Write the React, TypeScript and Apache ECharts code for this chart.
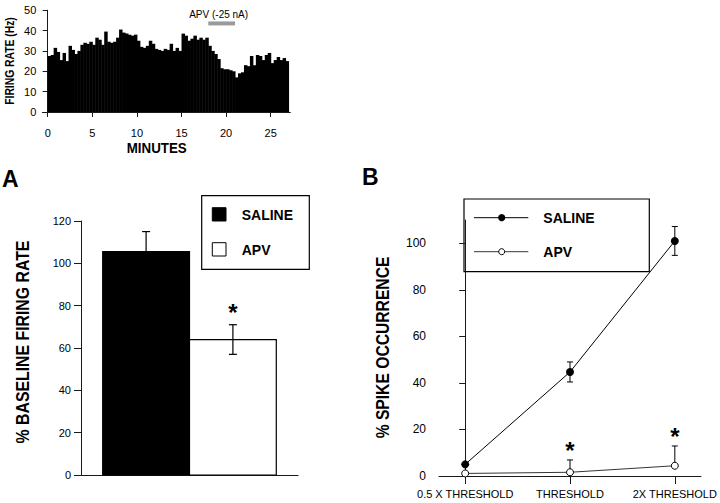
import React, { useEffect, useRef } from "react";
import * as echarts from "echarts";

const FONT = "'Liberation Sans', Arial, Helvetica, sans-serif";

// ---------- Top: firing-rate histogram ----------
const binMinutes = 1 / 3;
const firingRate = [
  27.5, 28, 31.5,
  29.5, 25.5, 29,
  25, 32.5, 30.5,
  28.5, 30, 33,
  34, 33.5, 34.5,
  33, 36.5, 35.5,
  33, 39.5, 34.5,
  34, 34.5, 36.5,
  40.5, 39, 38.5,
  38, 37.5, 38,
  35, 32, 31.5,
  32.5, 35, 33.5,
  31, 30.5, 30,
  31, 30.5, 33.5,
  30, 31.5, 30,
  38.5, 37.5, 35,
  36, 37.5, 35.5,
  36.5, 35.5, 36.5,
  32.5, 30, 28.5,
  26, 21.5, 21,
  21, 20.5, 20,
  17, 19, 19.5,
  23, 22.5, 27.5,
  23, 28, 27.5,
  25.5, 28, 29,
  24, 25.5, 27,
  25.5, 26.5, 25,
];
const histXTicks = [0, 5, 10, 15, 20, 25];
const apvPeriod = [18, 21];
const apvMarkLevel = 43.5;
const apvLabel = "APV (-25 nA)";

// ---------- Panel A ----------
const groupNames = ["SALINE", "APV"];
const baselineMean = [105.5, 64];
const baselineSem = [9.5, 7];
const groupStar = [false, true];

// ---------- Panel B ----------
const stimCategories = ["0.5 X THRESHOLD", "THRESHOLD", "2X THRESHOLD"];
const salineSpike = [5, 44.7, 101];
const salineSpikeErr = [0, 4.3, 6.2];
const apvSpike = [1.1, 1.6, 4.4];
const apvSpikeErr = [0, 5.3, 8.5];
const spikeStar = [false, true, true];
const spikeYTicks = [0, 20, 40, 60, 80, 100];

const AX = "#1a1a1a";

function line(x1: number, y1: number, x2: number, y2: number, w = 1) {
  return { type: "line", shape: { x1, y1, x2, y2 }, style: { stroke: "#000", lineWidth: w } };
}

function starText(x: number, y: number) {
  return {
    type: "text",
    style: {
      text: "*", x, y, fill: "#000",
      font: `bold 24px ${FONT}`,
      align: "center", verticalAlign: "middle",
      textAlign: "center", textVerticalAlign: "middle",
    },
  };
}

function txt(text: string, x: number, y: number, size: number, weight: string, extra: any = {}) {
  return {
    type: "text",
    x, y,
    ...extra,
    style: {
      text, fill: "#000",
      font: `${weight} ${size}px ${FONT}`,
      align: extra.align || "left", verticalAlign: "middle",
      textAlign: extra.align || "left", textVerticalAlign: "middle",
    },
  };
}

export default function App() {
  const ref = useRef<HTMLDivElement>(null);

  useEffect(() => {
    if (!ref.current) return;
    const chart = echarts.init(ref.current, undefined, { renderer: "svg" });

    const axisLineStyle = { show: true, lineStyle: { color: AX, width: 1 } };

    const option: any = {
      animation: false,
      backgroundColor: "#fff",
      textStyle: { fontFamily: FONT },
      grid: [
        { left: 42.35, top: 10.2, width: 248, height: 101.8 },
        { left: 81, top: 221, width: 217, height: 254 },
        { left: 439, top: 220, width: 269.3, height: 256 },
      ],
      xAxis: [
        {
          gridIndex: 0, type: "value", min: -0.6, max: 27.2, offset: 4,
          axisLine: axisLineStyle,
          axisTick: { show: true, length: 5, customValues: histXTicks, lineStyle: { color: AX } },
          axisLabel: { customValues: histXTicks, fontSize: 11, color: "#000", margin: 11 },
          splitLine: { show: false },
        },
        {
          gridIndex: 1, type: "value", min: 0, max: 2.5,
          axisLine: axisLineStyle,
          axisTick: { show: false },
          axisLabel: { show: false },
          splitLine: { show: false },
        },
        {
          gridIndex: 2, type: "value", min: -0.25, max: 2.25,
          axisLine: axisLineStyle,
          axisTick: { show: true, length: 8, customValues: [0, 1, 2], lineStyle: { color: AX } },
          axisLabel: {
            customValues: [0, 1, 2], fontSize: 11, color: "#000", margin: 12,
            formatter: (v: number) => stimCategories[Math.round(v)] ?? "",
          },
          splitLine: { show: false },
        },
      ],
      yAxis: [
        {
          gridIndex: 0, type: "value", min: 0, max: 50, interval: 10,
          axisLine: axisLineStyle,
          axisTick: { show: true, length: 5, lineStyle: { color: AX } },
          axisLabel: { fontSize: 11, color: "#000", margin: 6 },
          splitLine: { show: false },
        },
        {
          gridIndex: 1, type: "value", min: 0, max: 120, interval: 20,
          axisLine: axisLineStyle,
          axisTick: { show: true, length: 7, lineStyle: { color: AX } },
          axisLabel: { fontSize: 11, color: "#000", margin: 10 },
          splitLine: { show: false },
        },
        {
          gridIndex: 2, type: "value", min: 0, max: 110,
          axisLine: axisLineStyle,
          axisTick: { show: true, length: 6, customValues: spikeYTicks, lineStyle: { color: AX } },
          axisLabel: { customValues: spikeYTicks, fontSize: 12, color: "#000", margin: 13 },
          splitLine: { show: false },
        },
      ],
      series: [
        // histogram bars
        {
          type: "custom", xAxisIndex: 0, yAxisIndex: 0,
          data: firingRate.map((v, i) => [i * binMinutes, (i + 1) * binMinutes, v]),
          encode: { x: [0, 1], y: 2 },
          renderItem: (_p: any, api: any) => {
            const a = api.coord([api.value(0), api.value(2)]);
            const b = api.coord([api.value(1), 0]);
            return {
              type: "rect",
              shape: { x: a[0], y: a[1], width: b[0] - a[0] + 0.5, height: b[1] - a[1] },
              style: { fill: "#000" },
            };
          },
        },
        // APV application bar
        {
          type: "custom", xAxisIndex: 0, yAxisIndex: 0,
          data: [[apvPeriod[0], apvPeriod[1], apvMarkLevel]],
          encode: { x: [0, 1], y: 2 },
          renderItem: (_p: any, api: any) => {
            const a = api.coord([api.value(0), api.value(2)]);
            const b = api.coord([api.value(1), api.value(2)]);
            return {
              type: "group",
              children: [
                { type: "rect", shape: { x: a[0], y: a[1] - 2, width: b[0] - a[0], height: 4 }, style: { fill: "#9a9a9a" } },
                {
                  type: "text",
                  style: {
                    text: apvLabel, x: (a[0] + b[0]) / 2 - 3, y: a[1] - 9, fill: "#000",
                    font: `10px ${FONT}`, align: "center", verticalAlign: "middle",
                    textAlign: "center", textVerticalAlign: "middle",
                  },
                },
              ],
            };
          },
        },
        // Panel A bars + error bars
        {
          type: "custom", xAxisIndex: 1, yAxisIndex: 1,
          data: groupNames.map((_n, i) => [i, baselineMean[i], baselineSem[i]]),
          encode: { x: 0, y: 1 },
          renderItem: (p: any, api: any) => {
            const i = api.value(0), m = api.value(1), s = api.value(2);
            const tl = api.coord([i + 0.25, m]);
            const br = api.coord([i + 1.25, 0]);
            const top = api.coord([i + 0.75, m + s]);
            const bot = api.coord([i + 0.75, m - s]);
            const cx = top[0];
            const children: any[] = [
              {
                type: "rect",
                shape: { x: tl[0], y: tl[1], width: br[0] - tl[0], height: br[1] - tl[1] },
                style: { fill: i === 0 ? "#000" : "#fff", stroke: "#000", lineWidth: 1.2 },
              },
              line(cx, bot[1], cx, top[1], 1.2),
              line(cx - 4, top[1], cx + 4, top[1], 1.2),
              line(cx - 4, bot[1], cx + 4, bot[1], 1.2),
            ];
            if (groupStar[p.dataIndex]) children.push(starText(cx, top[1] - 12));
            return { type: "group", children };
          },
        },
        // Panel B error bars
        {
          type: "custom", xAxisIndex: 2, yAxisIndex: 2, z: 1,
          data: stimCategories.map((_c, i) => [i, salineSpike[i], salineSpikeErr[i], apvSpike[i], apvSpikeErr[i]]),
          encode: { x: 0, y: 1 },
          renderItem: (p: any, api: any) => {
            const i = api.value(0);
            const children: any[] = [];
            const sm = api.value(1), se = api.value(2);
            if (se > 0) {
              const t = api.coord([i, sm + se]);
              const b = api.coord([i, sm - se]);
              children.push(line(t[0], b[1], t[0], t[1], 1));
              children.push(line(t[0] - 3, t[1], t[0] + 3, t[1], 1));
              children.push(line(t[0] - 3, b[1], t[0] + 3, b[1], 1));
            }
            const am = api.value(3), ae = api.value(4);
            const at = api.coord([i, am + ae]);
            if (ae > 0) {
              const c = api.coord([i, am]);
              children.push(line(at[0], c[1], at[0], at[1], 1));
              children.push(line(at[0] - 3, at[1], at[0] + 3, at[1], 1));
            }
            if (spikeStar[p.dataIndex]) children.push(starText(at[0], at[1] - 9));
            return { type: "group", children };
          },
        },
        {
          name: "SALINE", type: "line", xAxisIndex: 2, yAxisIndex: 2, z: 3,
          data: salineSpike.map((v, i) => [i, v]),
          symbol: "circle", symbolSize: 8,
          itemStyle: { color: "#000" },
          lineStyle: { color: "#000", width: 1 },
        },
        {
          name: "APV", type: "line", xAxisIndex: 2, yAxisIndex: 2, z: 3,
          data: apvSpike.map((v, i) => [i, v]),
          symbol: "circle", symbolSize: 7,
          itemStyle: { color: "#fff", borderColor: "#000", borderWidth: 1 },
          lineStyle: { color: "#000", width: 0.8 },
        },
      ],
      graphic: {
        elements: [
          // axis titles
          txt("FIRING RATE (Hz)", 10, 61, 12, "bold", { rotation: Math.PI / 2, scaleX: 0.86, align: "center" }),
          txt("MINUTES", 156.7, 148, 15, "bold", { scaleX: 0.89, align: "center" }),
          txt("% BASELINE FIRING RATE", 23, 342, 18, "bold", { rotation: Math.PI / 2, scaleX: 0.88, align: "center" }),
          txt("% SPIKE OCCURRENCE", 383.5, 347.5, 18, "bold", { rotation: Math.PI / 2, scaleX: 0.87, align: "center" }),
          // panel letters
          txt("A", 2, 179, 23, "bold"),
          txt("B", 362, 177, 23, "bold"),
          // legend A
          { type: "rect", shape: { x: 201.7, y: 195.7, width: 107.6, height: 73.6 }, style: { fill: "#fff", stroke: "#000", lineWidth: 1.2 } },
          { type: "rect", shape: { x: 212.3, y: 207.7, width: 13.7, height: 13.3 }, style: { fill: "#000", stroke: "#000", lineWidth: 1 } },
          { type: "rect", shape: { x: 212.3, y: 242.7, width: 13.7, height: 13.3 }, style: { fill: "#fff", stroke: "#000", lineWidth: 1 } },
          txt(groupNames[0], 241.7, 214.5, 14, "bold"),
          txt(groupNames[1], 241.7, 249.5, 14, "bold"),
          // legend B
          { type: "rect", shape: { x: 464, y: 199, width: 185.3, height: 72.7 }, style: { fill: "#fff", stroke: "#000", lineWidth: 1.2 } },
          { type: "line", shape: { x1: 474, y1: 217.7, x2: 528.3, y2: 217.7 }, style: { stroke: "#000", lineWidth: 1 } },
          { type: "circle", shape: { cx: 501.7, cy: 217.7, r: 3.6 }, style: { fill: "#000" } },
          { type: "line", shape: { x1: 474, y1: 251.7, x2: 528.3, y2: 251.7 }, style: { stroke: "#000", lineWidth: 0.8 } },
          { type: "circle", shape: { cx: 501.7, cy: 251.7, r: 3 }, style: { fill: "#fff", stroke: "#000", lineWidth: 1 } },
          txt("SALINE", 543.3, 218, 14, "bold"),
          txt("APV", 543.3, 252, 14, "bold"),
        ],
      },
    };

    chart.setOption(option);
    return () => chart.dispose();
  }, []);

  return (
    <div
      ref={ref}
      style={{ position: "fixed", left: 0, top: 0, width: 720, height: 503, background: "#fff" }}
    />
  );
}
